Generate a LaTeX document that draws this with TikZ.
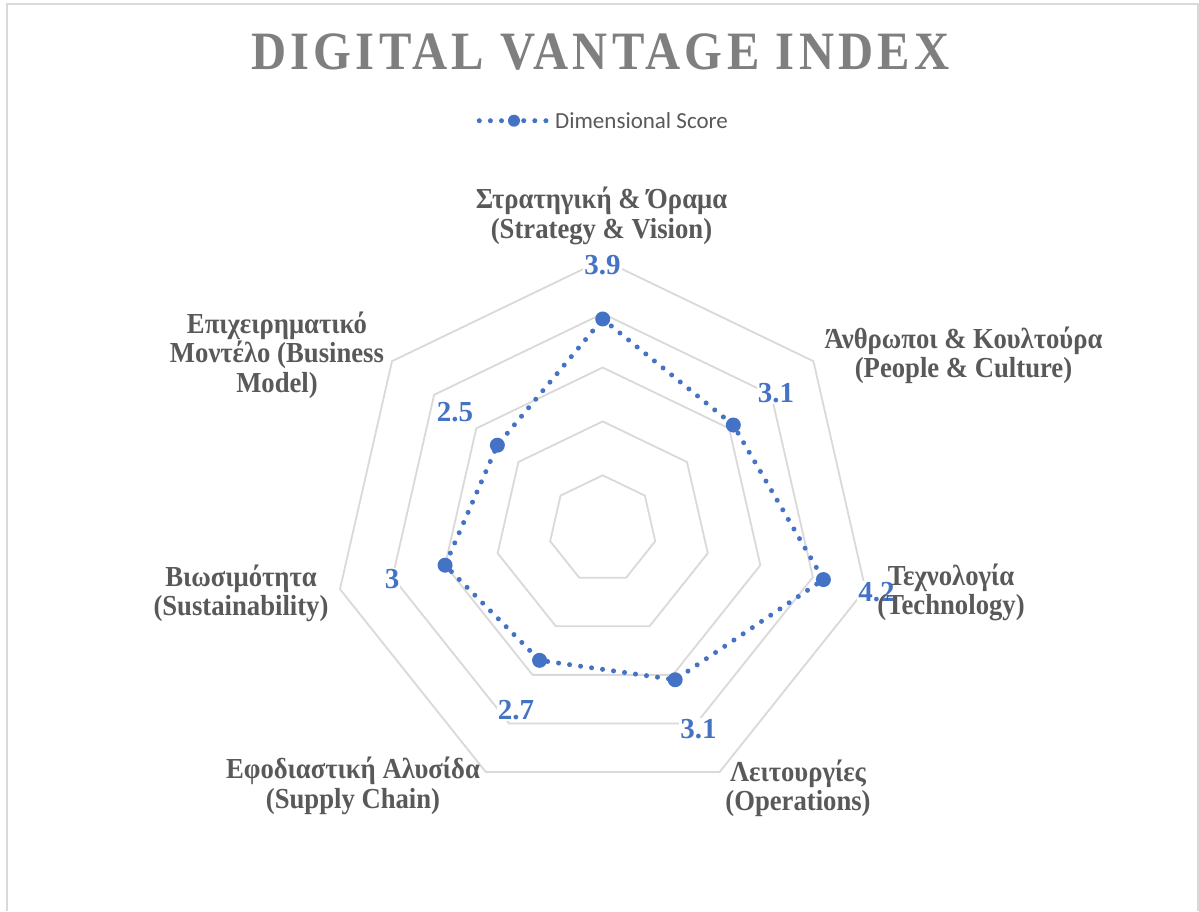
\documentclass[tikz,border=0pt]{standalone}
\usepackage{fontspec}
\setmainfont{Liberation Serif}
\newfontfamily\legendfont{Carlito}
\newfontfamily\titlefont[LetterSpace=8,FakeStretch=0.9]{Liberation Serif}
\newfontfamily\labfont[FakeStretch=0.92]{Liberation Serif}
\usetikzlibrary{calc}
\definecolor{gridgray}{HTML}{D9D9D9}
\definecolor{labgray}{HTML}{595959}
\definecolor{titlegray}{HTML}{7F7F7F}
\definecolor{serblue}{HTML}{4472C4}
\tikzset{
  ring/.style={draw=gridgray, line width=1.8pt, line join=miter},
  frame/.style={draw=gridgray, line width=1.6pt},
  serline/.style={draw=serblue, line width=5pt, line cap=round, dash pattern=on 0pt off 11.1pt},
  datadot/.style={circle, fill=serblue, draw=none, inner sep=0pt, minimum size=15pt},
  legdot/.style={circle, fill=serblue, draw=none, inner sep=0pt, minimum size=12pt},
  axlabel/.style={align=center, text=labgray, inner sep=0pt, font=\labfont\fontsize{29}{29.5}\selectfont\bfseries},
  vallabel/.style={text=serblue, fill=white, inner sep=1pt, font=\fontsize{29}{30}\selectfont\bfseries},
}
\begin{document}
\begin{tikzpicture}[x=1pt,y=-1pt]
\useasboundingbox (0,0) rectangle (1199,911);
\fill[white] (0,0) rectangle (1199,911);
\draw[frame] (7,911) -- (7,4) -- (1198,4) -- (1198,911);
% title and legend
\node[text=titlegray, inner sep=0pt, font=\titlefont\fontsize{54}{60}\selectfont\bfseries] (title) at (600.5,52.5) {DIGITAL VANTAGE INDEX};
\coordinate (la) at (479.3,120.7);
\coordinate (lb) at (547.3,120.7);
\draw[serline] (la) -- (lb);
\node[legdot] (lm) at (514,120.7) {};
\node[anchor=base west, inner sep=0pt, text=labgray, font=\legendfont\fontsize{23}{26}\selectfont] (legtext) at (555,128.3) {Dimensional Score};
% grid
\coordinate (c) at (602.7,529.2);
\foreach \k in {1,...,5}{
  \draw[ring] ($(c)+(-90:\k*53.9)$) \foreach \i in {1,...,6}{ -- ($(c)+(\i*360/7-90:\k*53.9)$)} -- cycle;
}
% data
\foreach \v [count=\i from 0] in {3.9,3.1,4.2,3.1,2.7,3.0,2.5}{
  \coordinate (q\i) at ($(c)+(\i*360/7-90:\v*53.9)$);
}
\draw[serline] (q0) -- (q1) -- (q2) -- (q3) -- (q4) -- (q5) -- (q6) -- cycle;
\foreach \i in {0,...,6}{ \node[datadot] (p\i) at (q\i) {}; }
% value labels
\node[vallabel] (v0) at (602.5,265) {3.9};
\node[vallabel] (v1) at (776,393) {3.1};
\node[vallabel] (v2) at (876.5,592) {4.2};
\node[vallabel] (v3) at (698.5,729) {3.1};
\node[vallabel] (v4) at (516,710) {2.7};
\node[vallabel] (v5) at (392,579) {3};
\node[vallabel] (v6) at (455,412) {2.5};
% axis labels
\node[axlabel] (a0) at (601.5,216) {Στρατηγική \& Όραμα\\(Strategy \& Vision)};
\node[axlabel] (a1) at (963.5,355.5) {Άνθρωποι \& Κουλτούρα\\(People \& Culture)};
\node[axlabel] (a2) at (951,592.5) {Τεχνολογία\\(Technology)};
\node[axlabel] (a3) at (798,788.5) {Λειτουργίες\\(Operations)};
\node[axlabel] (a4) at (353,786) {Εφοδιαστική Αλυσίδα\\(Supply Chain)};
\node[axlabel] (a5) at (241,593.5) {Βιωσιμότητα\\(Sustainability)};
\node[axlabel] (a6) at (277,355) {Επιχειρηματικό\\Μοντέλο (Business\\Model)};
\end{tikzpicture}
\end{document}
